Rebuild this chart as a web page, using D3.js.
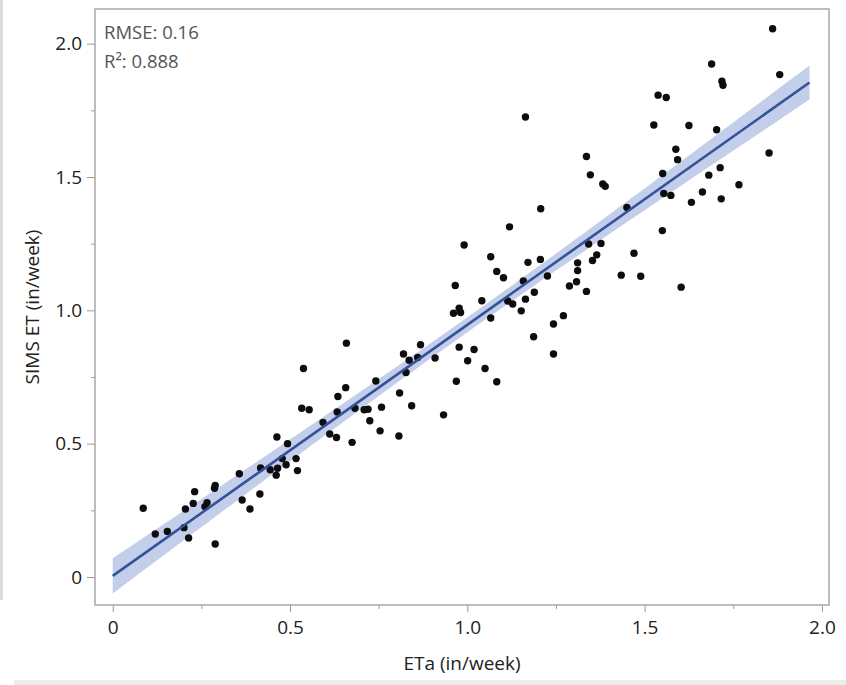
<!DOCTYPE html>
<html>
<head>
<meta charset="utf-8">
<script src="https://cdn.jsdelivr.net/npm/d3@7"></script>
<style>
  body { margin: 0; background: #fff; }
  text { font-family: "Open Sans", "Noto Sans", sans-serif; }
</style>
</head>
<body>
<svg id="chart" width="846" height="685"></svg>
<script>
// Weekly evapotranspiration: measured ETa vs. SIMS estimate (in/week)
const etaObserved = [
  0.086,0.120,0.154,0.201,0.214,0.205,0.227,0.231,0.266,0.260,0.287,0.289,0.289,0.357,0.365,0.387,
  0.415,0.417,0.444,0.461,0.465,0.463,0.478,0.489,0.493,0.517,0.521,0.538,0.533,0.554,0.593,0.612,
  0.631,0.635,0.633,0.657,0.659,0.675,0.683,0.709,0.720,0.725,0.742,0.754,0.758,0.807,0.809,0.820,
  0.827,0.836,0.843,0.860,0.868,0.909,0.933,0.961,0.977,0.981,0.969,0.977,1.001,1.019,1.041,1.050,
  1.066,1.083,1.114,1.128,1.152,1.164,1.187,1.189,1.243,1.243,1.271,1.164,1.207,1.119,0.991,1.066,
  1.083,1.102,1.171,1.206,1.226,1.158,0.966,1.311,1.311,1.308,1.288,1.861,1.689,1.881,1.718,1.721,
  1.538,1.561,1.526,1.625,1.703,1.588,1.593,1.851,1.336,1.347,1.382,1.389,1.551,1.713,1.681,1.766,
  1.554,1.574,1.663,1.632,1.716,1.450,1.550,1.342,1.377,1.365,1.353,1.470,1.434,1.489,1.603,1.336
];
const simsEstimated = [
  0.258,0.161,0.171,0.185,0.146,0.255,0.276,0.320,0.279,0.264,0.333,0.343,0.124,0.387,0.289,0.255,
  0.311,0.409,0.402,0.382,0.408,0.525,0.444,0.421,0.500,0.444,0.399,0.782,0.633,0.627,0.580,0.536,
  0.523,0.677,0.619,0.710,0.877,0.505,0.633,0.627,0.629,0.586,0.735,0.548,0.637,0.529,0.690,0.836,
  0.767,0.813,0.642,0.823,0.871,0.821,0.608,0.989,1.008,0.992,0.734,0.862,0.811,0.853,1.036,0.782,
  0.971,0.732,1.035,1.024,0.998,1.042,0.901,1.068,0.949,0.836,0.980,1.725,1.381,1.313,1.245,1.201,
  1.146,1.122,1.180,1.191,1.129,1.110,1.093,1.178,1.149,1.107,1.091,2.056,1.924,1.884,1.859,1.844,
  1.807,1.798,1.695,1.693,1.677,1.604,1.565,1.590,1.577,1.508,1.474,1.465,1.513,1.535,1.507,1.471,
  1.438,1.431,1.444,1.405,1.418,1.386,1.299,1.249,1.251,1.208,1.187,1.214,1.132,1.128,1.087,1.071
];
const xMajorTicks = [0, 0.5, 1.0, 1.5, 2.0];
const yMajorTicks = [0, 0.5, 1.0, 1.5, 2.0];
const minorTicks = [0.25, 0.75, 1.25, 1.75];
const fitStats = ["RMSE: 0.16", "R\u00B2: 0.888"];
const fitExtent = [0, 1.965];
const xTitle = "ETa (in/week)";
const yTitle = "SIMS ET (in/week)";

const svg = d3.select("#chart");
const frame = { left: 95, top: 9, right: 829, bottom: 605 };

// Window edges around the report panel
svg.append("rect").attr("x", 0).attr("y", 0).attr("width", 3).attr("height", 600).attr("fill", "#dcdcdc");
svg.append("rect").attr("x", 14).attr("y", 680).attr("width", 832).attr("height", 5).attr("fill", "#ececec");

const x = d3.scaleLinear().domain([-0.05, 2.02]).range([frame.left, frame.right]);
const y = d3.scaleLinear().domain([-0.105, 2.13]).range([frame.bottom, frame.top]);

const fmt = d => d === 0 ? "0" : d3.format(".1f")(d);

// Axes (ticks outside the frame)
const xAxis = svg.append("g").attr("transform", `translate(0,${frame.bottom})`)
  .call(d3.axisBottom(x).tickValues(xMajorTicks).tickFormat(fmt).tickSize(7).tickPadding(9));
svg.append("g").attr("transform", `translate(0,${frame.bottom})`)
  .call(d3.axisBottom(x).tickValues(minorTicks).tickFormat("").tickSize(4));
const yAxis = svg.append("g").attr("transform", `translate(${frame.left},0)`)
  .call(d3.axisLeft(y).tickValues(yMajorTicks).tickFormat(fmt).tickSize(8).tickPadding(5));
svg.append("g").attr("transform", `translate(${frame.left},0)`)
  .call(d3.axisLeft(y).tickValues(minorTicks).tickFormat("").tickSize(4));
svg.selectAll(".domain").remove();
svg.selectAll(".tick line").attr("stroke", "#9a9a9a");
svg.selectAll(".tick text").attr("font-size", 19).attr("fill", "#222")
  .attr("font-family", "\"Open Sans\", \"Noto Sans\", sans-serif");

// Plot frame
svg.append("rect")
  .attr("x", frame.left).attr("y", frame.top)
  .attr("width", frame.right - frame.left).attr("height", frame.bottom - frame.top)
  .attr("fill", "none").attr("stroke", "#a8a8a8").attr("stroke-width", 1.5);

svg.append("clipPath").attr("id", "plotClip").append("rect")
  .attr("x", frame.left).attr("y", frame.top)
  .attr("width", frame.right - frame.left).attr("height", frame.bottom - frame.top);
const plot = svg.append("g").attr("clip-path", "url(#plotClip)");

// Least-squares fit with 95% confidence band for the mean
const n = etaObserved.length;
const xbar = d3.mean(etaObserved), ybar = d3.mean(simsEstimated);
let sxx = 0, sxy = 0;
for (let i = 0; i < n; i++) {
  sxx += (etaObserved[i] - xbar) ** 2;
  sxy += (etaObserved[i] - xbar) * (simsEstimated[i] - ybar);
}
const slope = sxy / sxx, intercept = ybar - slope * xbar;
let sse = 0;
for (let i = 0; i < n; i++) sse += (simsEstimated[i] - intercept - slope * etaObserved[i]) ** 2;
const s = Math.sqrt(sse / (n - 2));
const tCrit = 1.979;
const bandX = d3.range(0, 61).map(k => fitExtent[0] + (fitExtent[1] - fitExtent[0]) * k / 60);
const band = bandX.map(v => {
  const fit = intercept + slope * v;
  const hw = tCrit * s * Math.sqrt(1 / n + (v - xbar) ** 2 / sxx);
  return { v, lo: fit - hw, hi: fit + hw };
});

plot.append("path").datum(band)
  .attr("fill", "#b9c6e8").attr("fill-opacity", 0.85)
  .attr("d", d3.area().x(d => x(d.v)).y0(d => y(d.lo)).y1(d => y(d.hi)));

// Observations
plot.append("g").selectAll("circle")
  .data(etaObserved.map((v, i) => [v, simsEstimated[i]]))
  .join("circle")
  .attr("cx", d => x(d[0])).attr("cy", d => y(d[1]))
  .attr("r", 3.7).attr("fill", "#0d0d0d");

plot.append("path").datum(fitExtent)
  .attr("fill", "none").attr("stroke", "#34519a").attr("stroke-width", 2.6)
  .attr("d", d3.line().x(d => x(d)).y(d => y(intercept + slope * d)));

// Fit statistics
svg.append("g").selectAll("text").data(fitStats).join("text")
  .attr("x", 104).attr("y", (d, i) => 39 + i * 29)
  .attr("font-size", 18.5).attr("fill", "#555")
  .text(d => d);

// Axis titles
svg.append("text")
  .attr("x", (frame.left + frame.right) / 2 + 0).attr("y", 670)
  .attr("text-anchor", "middle").attr("font-size", 19).attr("fill", "#222")
  .text(xTitle);
svg.append("text")
  .attr("transform", `translate(39,${(frame.top + frame.bottom) / 2}) rotate(-90)`)
  .attr("text-anchor", "middle").attr("font-size", 19).attr("fill", "#222")
  .text(yTitle);
</script>
</body>
</html>
